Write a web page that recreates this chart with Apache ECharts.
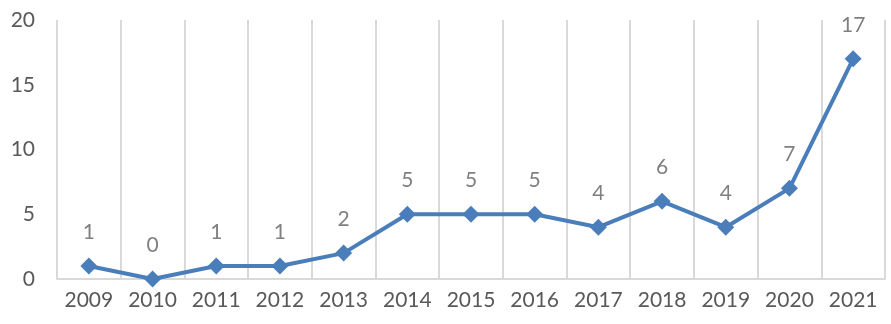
<!DOCTYPE html>
<html><head><meta charset="utf-8">
<script src="https://cdn.jsdelivr.net/npm/echarts@6/dist/echarts.min.js"></script>
<style>html,body{margin:0;padding:0;background:#fff}#c{width:891px;height:324px}</style>
</head><body><div id="c"></div>
<script>
const categories = ['2009','2010','2011','2012','2013','2014','2015','2016','2017','2018','2019','2020','2021'];
const values = [1,0,1,1,2,5,5,5,4,6,4,7,17];
const yTicks = [0,5,10,15,20];

const chart = echarts.init(document.getElementById('c'));
chart.setOption({
  animation: false,
  grid: {left: 57, right: 6, top: 20, bottom: 45},
  xAxis: {
    type: 'category', data: categories, boundaryGap: true,
    axisLine: {show: true, lineStyle: {color: '#d9d9d9', width: 2}},
    axisTick: {show: false},
    splitLine: {show: true, lineStyle: {color: '#d9d9d9', width: 2}},
    axisLabel: {color: '#595959', fontSize: 21, fontFamily: 'Lato', margin: 11}
  },
  yAxis: {
    type: 'value', min: yTicks[0], max: yTicks[yTicks.length-1], interval: 5,
    axisLine: {show: false}, axisTick: {show: false},
    splitLine: {show: false},
    axisLabel: {color: '#595959', fontSize: 21, fontFamily: 'Lato', margin: 22}
  },
  series: [{
    type: 'line', data: values,
    symbol: 'diamond', symbolSize: 17,
    itemStyle: {color: '#4a7ebb'},
    lineStyle: {color: '#4a7ebb', width: 4},
    label: {show: true, position: 'top', distance: 15, color: '#808080', fontSize: 21, fontFamily: 'Lato'}
  }]
});
</script></body></html>
